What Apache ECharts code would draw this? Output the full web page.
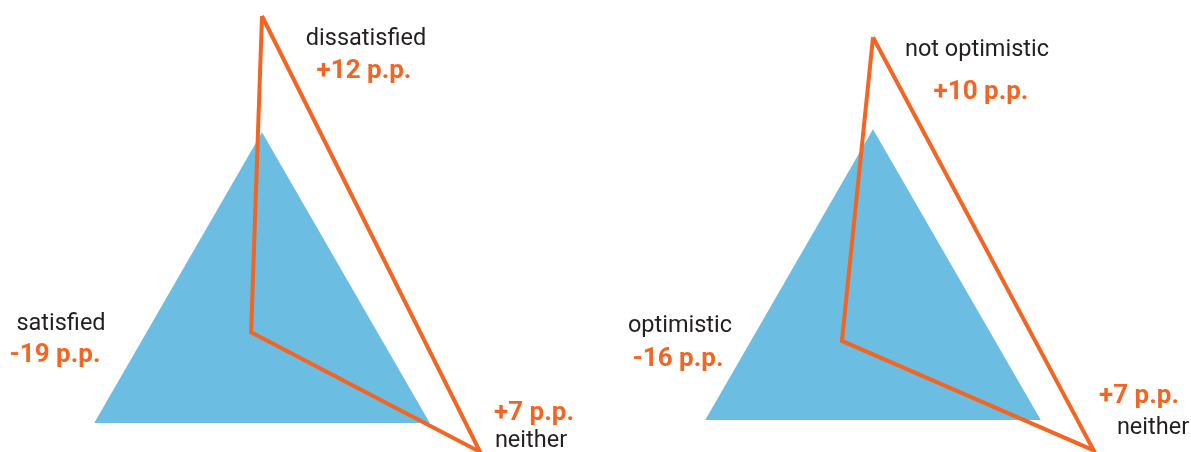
<!DOCTYPE html>
<html>
<head>
<meta charset="utf-8">
<script src="https://cdn.jsdelivr.net/npm/echarts@6/dist/echarts.min.js"></script>
<style>
  html, body { margin: 0; padding: 0; background: #fff; }
  #chart { width: 1191px; height: 452px; }
</style>
</head>
<body>
<div id="chart"></div>
<script>
// indicators (order: top, bottom-left, bottom-right)
var leftNames = ['dissatisfied', 'satisfied', 'neither'];
var rightNames = ['not optimistic', 'optimistic', 'neither'];
var leftChange = ['+12 p.p.', '-19 p.p.', '+7 p.p.'];
var rightChange = ['+10 p.p.', '-16 p.p.', '+7 p.p.'];

// blue = before, orange = after
var leftBefore = [20, 20, 20];
var leftAfter = [32, 1.3, 26];
var rightBefore = [20, 20, 20];
var rightAfter = [29.5, 3.7, 26.3];

var axisMax = 32;

var blue = '#6CBDE2';
var orange = '#F26522';
var dark = '#231F20';

var myChart = echarts.init(document.getElementById('chart'));

function indicators(names) {
    return names.map(function (n) { return { name: n, max: axisMax, min: 0 }; });
}

function radarBox(center, names) {
    return {
        center: center,
        radius: 310,
        startAngle: 90,
        shape: 'polygon',
        indicator: indicators(names),
        axisName: { show: false },
        axisLine: { show: false },
        splitLine: { show: false },
        splitArea: { show: false },
        axisTick: { show: false },
        axisLabel: { show: false }
    };
}

function series(idx, before, after) {
    return {
        type: 'radar',
        radarIndex: idx,
        symbol: 'none',
        silent: true,
        data: [
            {
                value: before,
                lineStyle: { width: 0, opacity: 0 },
                areaStyle: { color: blue, opacity: 1 }
            },
            {
                value: after,
                lineStyle: { color: orange, width: 4, join: 'miter' },
                areaStyle: { opacity: 0 }
            }
        ]
    };
}

// label spots: [x, y] for name and change text
var leftSpots = [[366, 39, 364, 71], [61, 324, 55, 355], [531, 441, 534, 413]];
var rightSpots = [[977, 50, 981, 92], [680, 326, 678, 359], [1153, 428, 1139, 396]];

function labels(names, changes, spots) {
    var out = [];
    for (var i = 0; i < names.length; i++) {
        out.push({
            type: 'text', x: spots[i][0], y: spots[i][1],
            style: { text: names[i], fill: dark, font: '23.5px Roboto', align: 'center', verticalAlign: 'middle' }
        });
        out.push({
            type: 'text', x: spots[i][2], y: spots[i][3],
            style: { text: changes[i], fill: orange, font: 'bold 26px Roboto', align: 'center', verticalAlign: 'middle' }
        });
    }
    return out;
}

var option = {
    animation: false,
    backgroundColor: '#fff',
    radar: [
        radarBox([262, 326], leftNames),
        radarBox([873, 323], rightNames)
    ],
    series: [
        series(0, leftBefore, leftAfter),
        series(1, rightBefore, rightAfter)
    ],
    graphic: labels(leftNames, leftChange, leftSpots).concat(labels(rightNames, rightChange, rightSpots))
};

myChart.setOption(option);
window.addEventListener('resize', function () { myChart.resize(); });
</script>
</body>
</html>
